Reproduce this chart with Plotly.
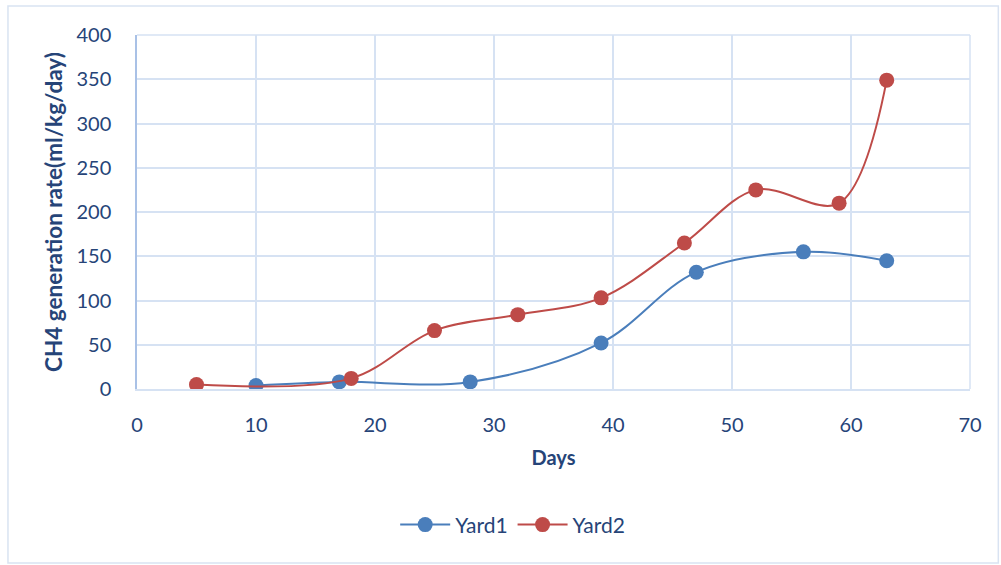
import plotly.graph_objects as go

# CH4 generation rate over time for two yards
yard1_days = [10, 17, 28, 39, 47, 56, 63]
yard1_rate = [4, 8, 8, 52, 132, 155, 145]

yard2_days = [5, 18, 25, 32, 39, 46, 52, 59, 63]
yard2_rate = [5, 12, 66, 84, 103, 165, 225, 210, 349]

x_ticks = [0, 10, 20, 30, 40, 50, 60, 70]
y_ticks = [0, 50, 100, 150, 200, 250, 300, 350, 400]

BLUE = "#4a7ebb"
RED = "#be4b48"
TEXT = "#264478"
GRID = "#d6e2f3"
FONT = "Lato, Carlito, Calibri, sans-serif"

fig = go.Figure()
for name, xs, ys, col in [("Yard1", yard1_days, yard1_rate, BLUE),
                          ("Yard2", yard2_days, yard2_rate, RED)]:
    fig.add_trace(go.Scatter(
        x=xs, y=ys, name=name, mode="lines+markers",
        line=dict(color=col, width=2, shape="spline", smoothing=1),
        marker=dict(color=col, size=15, line=dict(width=0)),
    ))

fig.update_layout(
    width=1001, height=565,
    margin=dict(l=137, r=31, t=35, b=176),
    paper_bgcolor="white", plot_bgcolor="white",
    font=dict(family=FONT, color=TEXT, size=20),
    showlegend=True,
    legend=dict(orientation="h", x=0.451, xanchor="center", y=-0.384, yanchor="middle",
                font=dict(size=21, color=TEXT), itemwidth=50, tracegroupgap=0),
    xaxis=dict(range=[0, 70], tickvals=x_ticks, showgrid=True, gridcolor=GRID, gridwidth=1.5,
               zeroline=False, showline=True, linecolor=GRID, linewidth=1.5,
               ticks="", ticklabelstandoff=17, tickfont=dict(size=20),
               title=dict(text="<b>Days</b>", font=dict(size=20, color=TEXT), standoff=16)),
    yaxis=dict(range=[0, 400], tickvals=y_ticks, showgrid=True, gridcolor=GRID, gridwidth=1.5,
               zeroline=False, showline=True, linecolor="#a9c1e6", linewidth=1.5,
               ticks="", ticklabelstandoff=20, tickfont=dict(size=20),
               title=dict(text="<b>CH4 generation rate(ml/kg/day)</b>", font=dict(size=22.5, color=TEXT), standoff=8)),
    shapes=[
        # right and top edges of the plot frame
        dict(type="line", xref="paper", yref="paper", x0=1, x1=1, y0=0, y1=1,
             line=dict(color=GRID, width=1.5)),
        dict(type="line", xref="paper", yref="paper", x0=0, x1=1, y0=1, y1=1,
             line=dict(color=GRID, width=1.5)),
        # outer chart border
        dict(type="rect", xref="paper", yref="paper", x0=-0.1549, x1=1.034, y0=-0.4915, y1=1.082,
             line=dict(color="#d9e3f2", width=1.5), layer="below"),
    ],
)

fig.write_html("out.html")
